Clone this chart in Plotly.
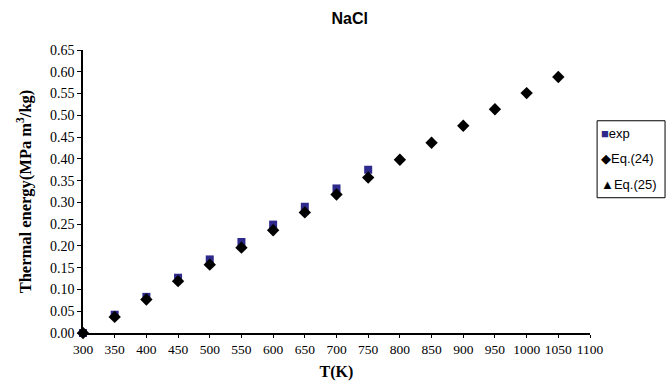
import plotly.graph_objects as go

T_exp = [300, 350, 400, 450, 500, 550, 600, 650, 700, 750]
E_exp = [0.000, 0.042, 0.083, 0.127, 0.169, 0.209, 0.249, 0.290, 0.332, 0.375]

T_eq = [300, 350, 400, 450, 500, 550, 600, 650, 700, 750, 800, 850, 900, 950, 1000, 1050]
E_eq24 = [0.000, 0.037, 0.077, 0.119, 0.157, 0.196, 0.236, 0.277, 0.318, 0.357,
          0.398, 0.437, 0.476, 0.514, 0.551, 0.588]
E_eq25 = [0.000, 0.040, 0.080, 0.122, 0.161, 0.200, 0.240, 0.281, 0.322, 0.362,
          0.402, 0.441, 0.479, 0.517, 0.553, 0.590]

legend_names = ["exp", "Eq.(24)", "Eq.(25)"]
legend_syms = ["■", "◆", "▲"]
legend_cols = ["#2e2a8c", "black", "black"]

fig = go.Figure()
fig.add_trace(go.Scatter(x=T_exp, y=E_exp, mode="markers", name=legend_names[0],
                         marker=dict(symbol="square", size=8, color=legend_cols[0]),
                         cliponaxis=False))
fig.add_trace(go.Scatter(x=T_eq, y=E_eq24, mode="markers", name=legend_names[1],
                         marker=dict(symbol="diamond", size=9.5, color="black"),
                         cliponaxis=False))
fig.add_trace(go.Scatter(x=T_eq, y=E_eq25, mode="markers", name=legend_names[2],
                         marker=dict(symbol="triangle-up", size=8, color="black"),
                         cliponaxis=False))

# manual legend (compact, like the original)
fig.add_shape(type="rect", xref="paper", yref="paper", x0=1.014, x1=1.148, y0=0.478, y1=0.75,
              line=dict(color="black", width=1), fillcolor="white")
for i, (nm, sym, col) in enumerate(zip(legend_names, legend_syms, legend_cols)):
    fig.add_annotation(xref="paper", yref="paper", x=1.018, y=0.705 - i * 0.09,
                       xanchor="left", yanchor="middle", showarrow=False,
                       text=f"<span style='color:{col}'>{sym}</span>{nm}",
                       font=dict(family="Liberation Sans, Arial, sans-serif", size=13, color="black"))

serif = "Liberation Serif, Times New Roman, serif"
fig.update_layout(
    width=666, height=382,
    margin=dict(l=83, r=76, t=50, b=49, autoexpand=False),
    paper_bgcolor="white", plot_bgcolor="white",
    showlegend=False,
    title=dict(text="<b>NaCl</b>", x=0.525, xanchor="center", y=0.953, yanchor="middle",
               font=dict(family="Liberation Sans, Arial, sans-serif", size=16, color="black")),
    xaxis=dict(range=[300, 1100], tick0=300, dtick=50, showgrid=False, zeroline=False,
               showline=True, linecolor="black", linewidth=1.5, tickangle=0, automargin=False,
               ticks="outside", ticklen=3, tickcolor="black",
               tickfont=dict(family=serif, size=13.5, color="black"),
               title=dict(text="<b>T(K)</b>", font=dict(family=serif, size=16, color="black"),
                          standoff=10)),
    yaxis=dict(range=[0, 0.65], tick0=0, dtick=0.05, tickformat=".2f", showgrid=False,
               zeroline=False, showline=True, linecolor="black", linewidth=1.5, automargin=False,
               ticks="outside", ticklen=4, tickcolor="black",
               tickfont=dict(family=serif, size=14, color="black"),
               title=dict(text="<b>Thermal energy(MPa m<sup>3</sup>/kg)</b>",
                          font=dict(family=serif, size=16.5, color="black"), standoff=14)),
)
fig.write_html("out.html")
